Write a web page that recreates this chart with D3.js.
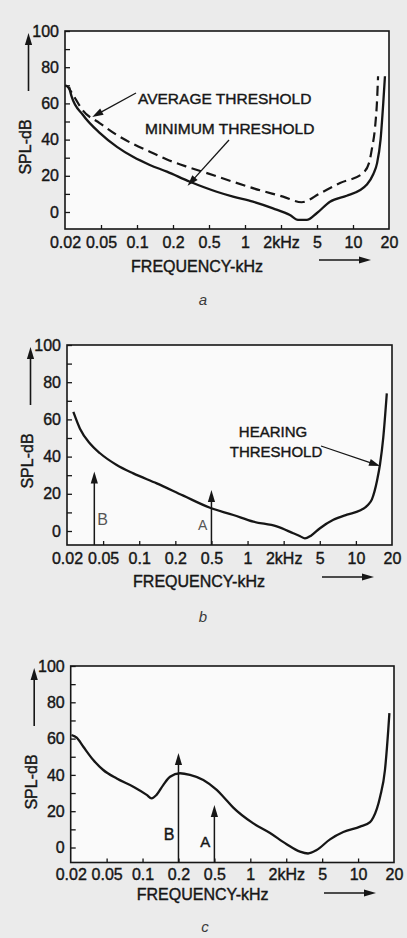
<!DOCTYPE html>
<html>
<head>
<meta charset="utf-8">
<script src="https://cdn.jsdelivr.net/npm/d3@7"></script>
<style>
  html, body { margin: 0; padding: 0; background: #ebebeb; }
  svg { display: block; }
  text { font-family: "Liberation Sans", Arial, Helvetica, sans-serif; fill: #161616;
         stroke: #161616; stroke-width: 0.4px; }
  text.light { stroke: none; }
</style>
</head>
<body>
<svg id="fig" width="407" height="938"></svg>
<script>
// Frequency axis: 1-2-5 steps, drawn equally spaced
const freqTicks = [0.02, 0.05, 0.1, 0.2, 0.5, 1, 2, 5, 10, 20];
const freqLabels = ["0.02", "0.05", "0.1", "0.2", "0.5", "1", "2kHz", "5", "10", "20"];
const splTickValues = [0, 10, 20, 30, 40, 50, 60, 70, 80, 90, 100];
const splLabelValues = [0, 20, 40, 60, 80, 100];

// (a) average and minimum hearing thresholds
const avgFreq = [0.0201, 0.0216, 0.0237, 0.0316, 0.0487, 0.068, 0.0926, 0.128, 0.178, 0.286, 0.475, 0.794, 1.335, 2.11, 3.39, 5.3, 7.79, 12.1, 13.6, 14.4, 15.3, 15.9, 16.2];
const avgSpl  = [70, 69, 66, 56, 49, 42.5, 37.6, 33.3, 29, 25, 21.5, 16.7, 12, 8.5, 5.4, 10.3, 16, 21.5, 27, 35, 47, 62, 75];
const minFreq = [0.0222, 0.0237, 0.0316, 0.0487, 0.068, 0.0926, 0.128, 0.178, 0.308, 0.58, 0.794, 1.166, 1.715, 2.51, 3.08, 3.85, 4.96, 6.42, 8.86, 11.4, 13.0, 14.8, 15.9, 17.0, 17.9, 18.5];
const minSpl  = [69, 63.7, 53.6, 43.6, 36, 30.5, 26, 22.3, 16.7, 11.2, 8.5, 5.7, 2, -1.7, -4.4, -4.4, -0.7, 5.7, 9, 12, 15, 21, 27, 40, 60, 75];

// (b) hearing threshold with two test tones
const hearFreq = [0.0235, 0.0278, 0.0358, 0.0462, 0.0649, 0.0893, 0.14, 0.245, 0.482, 0.761, 1.117, 1.75, 2.55, 3.04, 3.43, 4.0, 5.02, 6.49, 8.43, 10.8, 12.6, 13.6, 15.0, 15.9, 16.9, 18.1];
const hearSpl  = [64, 55, 47, 41.8, 35.5, 31, 25.6, 19, 12.5, 8.6, 5, 2.5, -1.2, -2.8, -4, -2.5, 1.5, 6, 8.8, 11, 14, 17, 27, 36, 50, 74];
const toneNamesB = ["B", "A"];
const toneFreqB  = [0.04, 0.5];
const toneSplB   = [32, 22];

// (c) threshold raised by masking around tone B
const maskFreq = [0.0204, 0.0233, 0.0276, 0.0356, 0.0459, 0.0608, 0.0837, 0.1084, 0.119, 0.131, 0.149, 0.17, 0.208, 0.268, 0.377, 0.523, 0.594, 0.72, 1.06, 1.463, 2.02, 2.84, 3.49, 4.35, 5.82, 7.52, 10.4, 12.6, 13.4, 15.3, 16.8, 17.9, 18.3];
const maskSpl  = [62, 60.5, 55.5, 48.2, 42.7, 38, 33.5, 29, 27.1, 29, 34.4, 39, 40.9, 40, 37.2, 31.7, 28, 22, 13.3, 8, 1.8, -2.3, -3.3, -1.4, 4.5, 8.5, 11.5, 14, 16.5, 28, 42.7, 64.7, 74];
const toneNamesC = ["B", "A"];
const toneFreqC  = [0.2, 0.5];
const toneSplC   = [52, 23.4];

const svg = d3.select("#fig");
const ink = "#161616";

function arrow(g, x1, y1, x2, y2, o = {}) {
  const head = o.head || 12, hw = o.hw || 3.6, w = o.width || 1.4, col = o.color || ink;
  const dx = x2 - x1, dy = y2 - y1, L = Math.hypot(dx, dy);
  const ux = dx / L, uy = dy / L;
  const bx = x2 - ux * head, by = y2 - uy * head;
  g.append("line")
    .attr("x1", x1).attr("y1", y1).attr("x2", bx + ux * 2).attr("y2", by + uy * 2)
    .attr("stroke", col).attr("stroke-width", w);
  g.append("path")
    .attr("d", `M${x2},${y2}L${bx - uy * hw},${by + ux * hw}L${bx + uy * hw},${by - ux * hw}Z`)
    .attr("fill", col);
}

function panel(cfg) {
  const g = svg.append("g");
  const step = (cfg.right - cfg.left) / (freqTicks.length - 1);
  const x = d3.scaleLog()
    .domain(freqTicks)
    .range(freqTicks.map((d, i) => cfg.left + i * step));
  const y = d3.scaleLinear().domain([0, 100]).range([cfg.zero, cfg.top]);

  // plotting area
  g.append("rect")
    .attr("x", cfg.left).attr("y", cfg.top)
    .attr("width", cfg.right - cfg.left).attr("height", cfg.bottom - cfg.top)
    .attr("fill", "#fafafa");

  // y axis: inward ticks every 10 dB, labels every 20 dB
  const ya = g.append("g")
    .attr("transform", `translate(${cfg.left},0)`)
    .call(d3.axisLeft(y).tickValues(splTickValues).tickSize(-5).tickPadding(6)
      .tickFormat(d => splLabelValues.includes(d) ? d : ""));
  ya.select(".domain").remove();
  ya.attr("font-size", null).attr("font-family", null);
  ya.selectAll(".tick line").attr("stroke", ink).attr("stroke-width", 1.3);
  ya.selectAll(".tick text").style("font-size", "16px");

  // x axis: short inward ticks, 1-2-5 labels
  const xa = g.append("g")
    .attr("transform", `translate(0,${cfg.bottom})`)
    .call(d3.axisBottom(x).tickValues(freqTicks).tickSize(-4).tickPadding(cfg.tickPad)
      .tickFormat((d, i) => freqLabels[i]));
  xa.select(".domain").remove();
  xa.attr("font-size", null).attr("font-family", null);
  xa.selectAll(".tick line").attr("stroke", ink).attr("stroke-width", 1.3)
    .filter((d, i) => i === 0 || i === freqTicks.length - 1).remove();
  xa.selectAll(".tick text").style("font-size", "16px");

  // frame
  g.append("rect")
    .attr("x", cfg.left).attr("y", cfg.top)
    .attr("width", cfg.right - cfg.left).attr("height", cfg.bottom - cfg.top)
    .attr("fill", "none").attr("stroke", ink).attr("stroke-width", 1.6);

  // y title with upward arrow
  arrow(g, cfg.left - 36.5, cfg.top + 60, cfg.left - 36.5, cfg.top + 2, { width: 1.6 });
  g.append("text")
    .attr("transform", `translate(${cfg.left - 34},${cfg.top + 116}) rotate(-90)`)
    .attr("text-anchor", "middle").style("font-size", "16px")
    .text("SPL-dB");

  // x title with rightward arrow
  g.append("text")
    .attr("x", cfg.left + 132).attr("y", cfg.bottom + cfg.xTitle)
    .attr("text-anchor", "middle").style("font-size", "16px")
    .text("FREQUENCY-kHz");
  arrow(g, cfg.right - 70, cfg.bottom + cfg.xArrow, cfg.right - 18, cfg.bottom + cfg.xArrow, { width: 1.6 });

  // panel letter
  g.append("text").attr("class", "light")
    .attr("x", cfg.letterX).attr("y", cfg.letterY)
    .attr("text-anchor", "middle")
    .style("font-size", "15px").style("font-style", "italic").style("fill", "#3a3a3a")
    .text(cfg.letter);

  const line = (fs, ss) => d3.line()
    .x(i => x(fs[i])).y(i => y(ss[i]))
    .curve(d3.curveMonotoneX)(d3.range(fs.length));

  return { g, x, y, line };
}

// ---- panel a ----
{
  const cfg = { left: 65, right: 389, top: 31, zero: 212, bottom: 229, tickPad: 7.6,
                xTitle: 42.5, xArrow: 31, letter: "a", letterX: 203, letterY: 305 };
  const { g, x, y, line } = panel(cfg);
  g.append("path").attr("d", line(avgFreq, avgSpl))
    .attr("fill", "none").attr("stroke", ink).attr("stroke-width", 2.2)
    .attr("stroke-dasharray", "10,5.5");
  g.append("path").attr("d", line(minFreq, minSpl))
    .attr("fill", "none").attr("stroke", ink).attr("stroke-width", 2.3);

  g.append("text").attr("x", 138).attr("y", 104).style("font-size", "15.5px").text("AVERAGE THRESHOLD");
  arrow(g, 136, 93, x(0.04), y(52.5), { head: 11, hw: 3.6, width: 1.3 });
  g.append("text").attr("x", 145).attr("y", 133.5).style("font-size", "15.5px").text("MINIMUM THRESHOLD");
  arrow(g, 229, 140, x(0.29), y(14.5), { head: 11, hw: 3.6, width: 1.3 });
}

// ---- panel b ----
{
  const cfg = { left: 67, right: 392, top: 345, zero: 531, bottom: 545, tickPad: 7.6,
                xTitle: 42, xArrow: 32, letter: "b", letterX: 203, letterY: 622 };
  const { g, x, y, line } = panel(cfg);
  g.append("path").attr("d", line(hearFreq, hearSpl))
    .attr("fill", "none").attr("stroke", ink).attr("stroke-width", 2.3);

  toneFreqB.forEach((f, i) => {
    arrow(g, x(f), cfg.bottom, x(f), y(toneSplB[i]), { head: 12, hw: 3.6, width: 1.5 });
  });
  g.append("text").attr("class", "light").attr("x", x(toneFreqB[0]) + 3).attr("y", cfg.bottom - 20)
    .style("font-size", "16px").style("fill", "#555").text(toneNamesB[0]);
  g.append("text").attr("class", "light").attr("x", x(toneFreqB[1]) - 4).attr("y", cfg.bottom - 15)
    .attr("text-anchor", "end").style("font-size", "14px").style("fill", "#555").text(toneNamesB[1]);

  g.append("text").attr("x", 273).attr("y", 437).attr("text-anchor", "middle")
    .style("font-size", "15px").text("HEARING");
  g.append("text").attr("x", 276).attr("y", 457).attr("text-anchor", "middle")
    .style("font-size", "15px").text("THRESHOLD");
  arrow(g, 321, 446, x(15.9), y(35), { head: 11, hw: 3.6, width: 1.3 });
}

// ---- panel c ----
{
  const cfg = { left: 70.7, right: 394, top: 666, zero: 847.5, bottom: 862.5, tickPad: 6,
                xTitle: 37.5, xArrow: 30.5, letter: "c", letterX: 205, letterY: 932 };
  const { g, x, y, line } = panel(cfg);
  g.append("path").attr("d", line(maskFreq, maskSpl))
    .attr("fill", "none").attr("stroke", ink).attr("stroke-width", 2.3);

  toneFreqC.forEach((f, i) => {
    arrow(g, x(f), cfg.bottom, x(f), y(toneSplC[i]), { head: 12, hw: 3.6, width: 1.5 });
  });
  g.append("text").attr("x", x(toneFreqC[0]) - 4).attr("y", cfg.bottom - 22.5)
    .attr("text-anchor", "end").style("font-size", "16px").text(toneNamesC[0]);
  g.append("text").attr("x", x(toneFreqC[1]) - 4).attr("y", cfg.bottom - 15.5)
    .attr("text-anchor", "end").style("font-size", "15px").text(toneNamesC[1]);
}
</script>
</body>
</html>
